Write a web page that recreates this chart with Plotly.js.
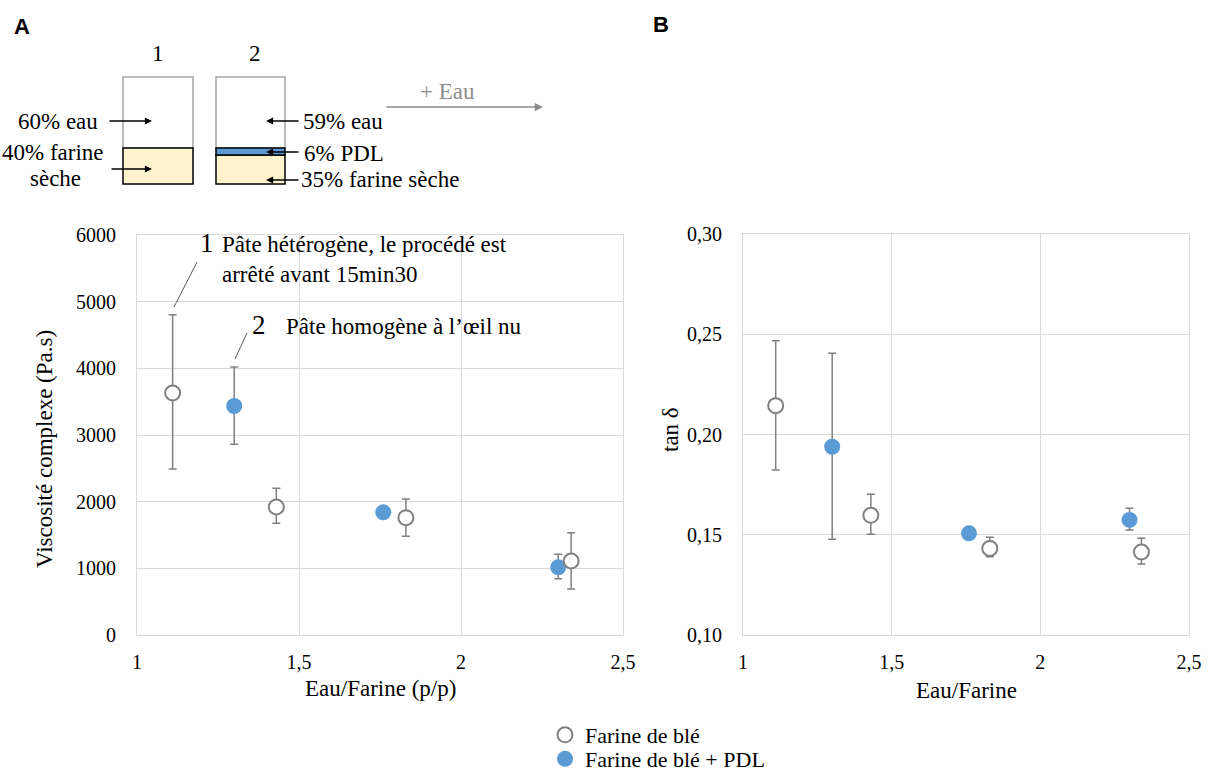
<!DOCTYPE html>
<html>
<head>
<meta charset="utf-8">
<script src="https://cdn.plot.ly/plotly-3.0.1.min.js"></script>
<style>html,body{margin:0;padding:0;background:#fff}#chart{width:1209px;height:772px}</style>
</head>
<body>
<div id="chart"></div>
<script>
// ---------- data ----------
const ratioFarine = [1.11, 1.43, 1.83, 2.34];
const viscFarine = [3630, 1920, 1760, 1110];
const viscFarineErrPlus = [1175, 280, 280, 425];
const viscFarineErrMinus = [1140, 245, 280, 420];
const ratioPDL = [1.30, 1.76, 2.30];
const viscPDL = [3435, 1840, 1015];
const viscPDLErrPlus = [585, 0, 195];
const viscPDLErrMinus = [575, 0, 170];
const tanFarine = [0.2144, 0.1597, 0.1432, 0.1414];
const tanFarineErrPlus = [0.0324, 0.0105, 0.0055, 0.0068];
const tanFarineErrMinus = [0.0321, 0.0095, 0.0042, 0.0060];
const tanPDL = [0.1939, 0.1507, 0.1574];
const tanPDLErrPlus = [0.0466, 0, 0.0058];
const tanPDLErrMinus = [0.0462, 0, 0.0050];
const seriesNames = ["Farine de blé", "Farine de blé + PDL"];

// ---------- helpers ----------
const W = 1209, H = 772;
const px = x => x / W, py = y => 1 - y / H;
const SERIF = "Liberation Serif, Times New Roman, serif";
const GREY = "#808080", BLUE = "#5b9bd5", GRID = "#d9d9d9";
const TXT = 23;

function openTrace(x, y, ep, em, xa, ya, show) {
  return {
    type: "scatter", mode: "markers", x: x, y: y, xaxis: xa, yaxis: ya,
    name: seriesNames[0], showlegend: show, legend: "legend",
    marker: {symbol: "circle", size: 15, color: "#ffffff", line: {color: GREY, width: 2}},
    error_y: {type: "data", symmetric: false, array: ep, arrayminus: em, color: GREY, thickness: 1.5, width: 4},
    cliponaxis: false, hoverinfo: "x+y"
  };
}
function bluTrace(x, y, ep, em, xa, ya, show) {
  return {
    type: "scatter", mode: "markers", x: x, y: y, xaxis: xa, yaxis: ya,
    name: seriesNames[1], showlegend: show, legend: "legend2",
    marker: {symbol: "circle", size: 16, color: BLUE, line: {color: BLUE, width: 0}},
    error_y: {type: "data", symmetric: false, array: ep, arrayminus: em, color: GREY, thickness: 1.5, width: 4},
    cliponaxis: false, hoverinfo: "x+y"
  };
}

const traces = [
  bluTrace(ratioPDL, viscPDL, viscPDLErrPlus, viscPDLErrMinus, "x", "y", true),
  openTrace(ratioFarine, viscFarine, viscFarineErrPlus, viscFarineErrMinus, "x", "y", true),
  bluTrace(ratioPDL, tanPDL, tanPDLErrPlus, tanPDLErrMinus, "x2", "y2", false),
  openTrace(ratioFarine, tanFarine, tanFarineErrPlus, tanFarineErrMinus, "x2", "y2", false)
];

const axisCommon = {
  showgrid: true, gridcolor: GRID, gridwidth: 1, zeroline: false,
  showline: true, linecolor: GRID, linewidth: 1, mirror: true,
  ticks: "", tickfont: {family: SERIF, size: 20, color: "#000"},
  automargin: false, fixedrange: true
};

const legendBase = {
  xanchor: "left", yanchor: "middle",
  font: {family: SERIF, size: 22, color: "#000"},
  bgcolor: "rgba(0,0,0,0)", borderwidth: 0,
  itemclick: false, itemdoubleclick: false
};

const layout = {
  width: W, height: H,
  margin: {l: 0, r: 0, t: 0, b: 0, autoexpand: false},
  paper_bgcolor: "#fff", plot_bgcolor: "#fff",
  separators: ", ",
  font: {family: SERIF, color: "#000"},
  xaxis: Object.assign({}, axisCommon, {domain: [px(137), px(623)], range: [1, 2.5], dtick: 0.5, tick0: 1, anchor: "y", ticklabelstandoff: 9}),
  yaxis: Object.assign({}, axisCommon, {domain: [py(635), py(235)], range: [0, 6000], dtick: 1000, tick0: 0, anchor: "x", ticklabelstandoff: 16}),
  xaxis2: Object.assign({}, axisCommon, {domain: [px(743), px(1189)], range: [1, 2.5], dtick: 0.5, tick0: 1, anchor: "y2", ticklabelstandoff: 9}),
  yaxis2: Object.assign({}, axisCommon, {domain: [py(635), py(234)], range: [0.1, 0.3], dtick: 0.05, tick0: 0.1, tickformat: ".2f", anchor: "x2", ticklabelstandoff: 16}),
  showlegend: true,
  legend: Object.assign({}, legendBase, {x: px(545), y: py(735)}),
  legend2: Object.assign({}, legendBase, {x: px(545), y: py(759)}),
  shapes: [],
  annotations: []
};

const S = layout.shapes, A = layout.annotations;
function rect(x0, y0, x1, y1, line, fill) {
  S.push({type: "rect", xref: "paper", yref: "paper", x0: px(x0), x1: px(x1), y0: py(y1), y1: py(y0),
    line: {color: line, width: 1.5}, fillcolor: fill, layer: "above"});
}
function seg(x0, y0, x1, y1, color, w) {
  S.push({type: "line", xref: "paper", yref: "paper", x0: px(x0), x1: px(x1), y0: py(y0), y1: py(y1),
    line: {color: color, width: w}, layer: "above"});
}
function txt(t, x, y, opts) {
  A.push(Object.assign({text: t, xref: "paper", yref: "paper", x: px(x), y: py(y), showarrow: false,
    xanchor: "center", yanchor: "middle", font: {family: SERIF, size: TXT, color: "#000"}}, opts || {}));
}
function arrow(xHead, yHead, xTail, yTail, color, w) {
  A.push({text: "", xref: "paper", yref: "paper", x: px(xHead), y: py(yHead),
    ax: xTail - xHead, ay: yTail - yHead, axref: "pixel", ayref: "pixel",
    showarrow: true, arrowhead: 2, arrowsize: 1.1, arrowwidth: w, arrowcolor: color, standoff: 0, startstandoff: 0});
}

// panel letters
txt("<b>A</b>", 22, 26, {font: {family: "Liberation Sans, Arial, sans-serif", size: 22, color: "#000"}});
txt("<b>B</b>", 661, 24, {font: {family: "Liberation Sans, Arial, sans-serif", size: 22, color: "#000"}});

// schematic boxes
txt("1", 158, 53);
txt("2", 255, 53);
rect(123, 77, 193, 148, "#a6a6a6", "rgba(0,0,0,0)");
rect(123, 148, 193, 184, "#000", "#fff2cc");
rect(216, 77, 285, 148, "#a6a6a6", "rgba(0,0,0,0)");
rect(216, 155, 285, 184, "#000", "#fff2cc");
rect(216, 148, 285, 155, "#000", BLUE);

txt("60% eau", 100, 121, {xanchor: "right"});
arrow(152, 121, 108, 121, "#000", 1.3);
txt("40% farine", 106, 152, {xanchor: "right"});
txt("sèche", 83, 179, {xanchor: "right"});
arrow(152, 169, 110, 169, "#000", 1.3);

txt("59% eau", 301, 121, {xanchor: "left"});
arrow(266, 121, 300, 121, "#000", 1.3);
txt("6% PDL", 302, 153, {xanchor: "left"});
arrow(266, 152, 300, 152, "#000", 1.3);
txt("35% farine sèche", 299, 180, {xanchor: "left"});
arrow(266, 180, 300, 180, "#000", 1.3);

txt("+ Eau", 447, 92, {font: {family: SERIF, size: TXT, color: "#8c8c8c"}});
arrow(543, 107, 385, 107, "#8c8c8c", 1.5);

// in-plot notes
txt("1", 207, 243, {font: {family: SERIF, size: 27, color: "#000"}});
txt("Pâte hétérogène, le procédé est<br>arrêté avant 15min30", 220, 230, {xanchor: "left", yanchor: "top", align: "left"});
seg(197, 262, 174, 307, "#595959", 1);
txt("2", 259, 325, {font: {family: SERIF, size: 27, color: "#000"}});
txt("Pâte homogène à l\u2019\u0153il nu", 284, 327, {xanchor: "left"});
seg(247, 333, 235, 359, "#595959", 1);

// axis titles
txt("Viscosité complexe (Pa.s)", 45, 449, {textangle: -90});
txt("Eau/Farine (p/p)", 380, 688);
txt("tan \u03b4", 670, 430, {textangle: -90});
txt("Eau/Farine", 966, 690);

Plotly.newPlot("chart", traces, layout, {displayModeBar: false, staticPlot: true});
</script>
</body>
</html>
